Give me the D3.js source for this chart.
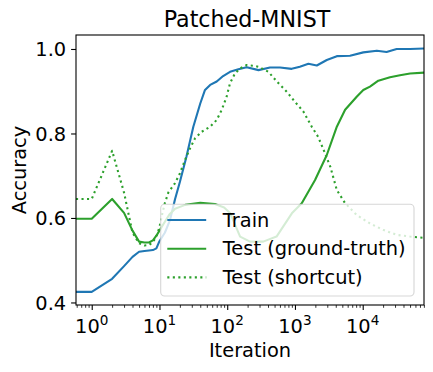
<!DOCTYPE html>
<html>
<head>
<meta charset="utf-8">
<script src="https://cdn.jsdelivr.net/npm/d3@7"></script>
<style>
  html, body { margin: 0; padding: 0; background: #fff; }
  svg { display: block; font-family: "DejaVu Sans", sans-serif; }
</style>
</head>
<body>
<svg id="chart" width="433" height="372"></svg>
<script>
// ---- Data ----
const title = "Patched-MNIST";
const xLabel = "Iteration";
const yLabel = "Accuracy";
const yTicks = [0.4, 0.6, 0.8, 1.0];
const xTickExps = [0, 1, 2, 3, 4];
const seriesNames = ["Train", "Test (ground-truth)", "Test (shortcut)"];

const trainIter = [0.586, 1, 2, 3, 4, 5, 6, 7, 8, 9, 10, 12, 14.3, 17, 20, 25, 31.6, 40, 47, 56, 70, 87, 110, 146, 194, 290, 428, 603, 895, 1180, 1580, 2100, 2950, 4150, 6500, 10200, 16200, 22500, 31700, 50000, 80300];
const trainAcc  = [0.425, 0.425, 0.456, 0.486, 0.508, 0.520, 0.522, 0.523, 0.524, 0.528, 0.545, 0.565, 0.595, 0.645, 0.685, 0.745, 0.816, 0.871, 0.903, 0.915, 0.923, 0.936, 0.946, 0.952, 0.957, 0.950, 0.956, 0.956, 0.953, 0.958, 0.965, 0.961, 0.974, 0.983, 0.984, 0.992, 0.996, 0.993, 1.000, 1.000, 1.001];

const gtIter = [0.586, 1, 2, 3, 4, 5, 6, 7, 8, 9, 10, 11.4, 14, 17, 24, 40, 66, 90, 110, 155, 217, 340, 535, 900, 1260, 1980, 2950, 4150, 5500, 8150, 10200, 12800, 17000, 25300, 35500, 50000, 80300];
const gtAcc  = [0.598, 0.598, 0.645, 0.612, 0.570, 0.544, 0.542, 0.542, 0.547, 0.558, 0.570, 0.585, 0.608, 0.622, 0.631, 0.636, 0.633, 0.625, 0.612, 0.556, 0.544, 0.544, 0.556, 0.611, 0.635, 0.690, 0.749, 0.816, 0.856, 0.887, 0.903, 0.911, 0.925, 0.933, 0.938, 0.942, 0.944];

const scIter = [0.586, 1, 2, 3, 4, 5, 6, 7, 8, 9, 10, 11, 12, 13.5, 16.9, 20.1, 23.8, 28.3, 33.6, 42, 56, 70, 83, 98, 110, 130, 155, 194, 256, 290, 405, 540, 755, 1000, 1330, 1770, 2200, 2650, 3330, 4150, 5500, 8150, 12800, 20000, 31700, 50000, 80300];
const scAcc  = [0.645, 0.645, 0.759, 0.660, 0.565, 0.540, 0.535, 0.536, 0.543, 0.556, 0.578, 0.610, 0.635, 0.660, 0.682, 0.706, 0.737, 0.765, 0.789, 0.804, 0.816, 0.832, 0.856, 0.887, 0.919, 0.942, 0.954, 0.962, 0.960, 0.958, 0.946, 0.923, 0.899, 0.875, 0.852, 0.816, 0.792, 0.761, 0.721, 0.666, 0.635, 0.607, 0.587, 0.572, 0.560, 0.556, 0.553];

// ---- Layout ----
const W = 433, H = 372;
const m = { left: 76, right: 424, top: 35, bottom: 305 };
const blue = "#1f77b4", green = "#2ca02c";

const svg = d3.select("#chart");

const x = d3.scaleLog().domain([0.586, 80300]).range([m.left, m.right]);
const y = d3.scaleLinear().domain([0.394, 1.0331]).range([m.bottom, m.top]);

svg.append("defs").append("clipPath").attr("id", "clip")
  .append("rect").attr("x", m.left).attr("y", m.top)
  .attr("width", m.right - m.left).attr("height", m.bottom - m.top);

const line = d3.line()
  .x(d => x(d[0])).y(d => y(d[1]))
  .curve(d3.curveLinear);

const series = [
  { name: seriesNames[0], xs: trainIter, ys: trainAcc, color: blue, dash: null },
  { name: seriesNames[1], xs: gtIter, ys: gtAcc, color: green, dash: null },
  { name: seriesNames[2], xs: scIter, ys: scAcc, color: green, dash: "2.1,3.4" }
];

const gLines = svg.append("g").attr("clip-path", "url(#clip)");
series.forEach(s => {
  const pts = s.xs.map((v, i) => [v, s.ys[i]]);
  gLines.append("path")
    .attr("d", line(pts))
    .attr("fill", "none")
    .attr("stroke", s.color)
    .attr("stroke-width", 2.1)
    .attr("stroke-dasharray", s.dash)
    .attr("stroke-linejoin", "round")
    .attr("stroke-linecap", s.dash ? "butt" : "square");
});

// ---- Axes ----
const fs = 19.4;
// y axis
const yAxis = d3.axisLeft(y).tickValues(yTicks).tickFormat(d3.format(".1f"))
  .tickSize(4.9).tickPadding(4.9);
const gy = svg.append("g").attr("transform", `translate(${m.left},0)`).call(yAxis);
gy.select(".domain").remove();
gy.selectAll("line").attr("stroke", "#000").attr("stroke-width", 1.1);
gy.selectAll("text").attr("font-size", fs).attr("fill", "#000")
  .attr("font-family", "DejaVu Sans").attr("dy", "0.36em");

// x axis major ticks
const xMajor = xTickExps.map(e => Math.pow(10, e));
const xAxis = d3.axisBottom(x).tickValues(xMajor).tickFormat("").tickSize(4.9);
const gx = svg.append("g").attr("transform", `translate(0,${m.bottom})`).call(xAxis);
gx.select(".domain").remove();
gx.selectAll("line").attr("stroke", "#000").attr("stroke-width", 1.1);
gx.selectAll("text").remove();

// x minor ticks
const minor = [];
for (let e = -1; e <= 4; e++) {
  for (let k = 2; k <= 9; k++) {
    const v = k * Math.pow(10, e);
    if (v >= x.domain()[0] && v <= x.domain()[1]) minor.push(v);
  }
}
const xMinorAxis = d3.axisBottom(x).tickValues(minor).tickFormat("").tickSize(2.8);
const gxm = svg.append("g").attr("transform", `translate(0,${m.bottom})`).call(xMinorAxis);
gxm.select(".domain").remove();
gxm.selectAll("line").attr("stroke", "#000").attr("stroke-width", 0.8);

// x tick labels as 10^e
xTickExps.forEach(e => {
  const t = svg.append("text")
    .attr("x", x(Math.pow(10, e)))
    .attr("y", 333)
    .attr("text-anchor", "middle")
    .attr("font-size", fs)
    .attr("fill", "#000");
  t.append("tspan").text("10");
  t.append("tspan").attr("font-size", 13.6).attr("dy", -8.5).text(String(e));
});

// spines
svg.append("rect")
  .attr("x", m.left).attr("y", m.top)
  .attr("width", m.right - m.left).attr("height", m.bottom - m.top)
  .attr("fill", "none").attr("stroke", "#000").attr("stroke-width", 1.1);

// labels
svg.append("text").attr("x", (m.left + m.right) / 2).attr("y", 357)
  .attr("text-anchor", "middle").attr("font-size", fs).attr("fill", "#000").text(xLabel);
svg.append("text")
  .attr("transform", `translate(26,${(m.top + m.bottom) / 2}) rotate(-90)`)
  .attr("text-anchor", "middle").attr("font-size", fs).attr("fill", "#000").text(yLabel);
svg.append("text").attr("x", (m.left + m.right) / 2 - 3).attr("y", 27)
  .attr("text-anchor", "middle").attr("font-size", 22.2).attr("fill", "#000").text(title);

// ---- Legend ----
const lg = svg.append("g");
lg.append("rect")
  .attr("x", 160.7).attr("y", 204.3)
  .attr("width", 414 - 160.7).attr("height", 296 - 204.3)
  .attr("rx", 3.9).attr("ry", 3.9)
  .attr("fill", "#fff").attr("fill-opacity", 0.8)
  .attr("stroke", "#cccccc").attr("stroke-opacity", 0.8).attr("stroke-width", 1.1);
const rowY = [220, 248.7, 277.4];
series.forEach((s, i) => {
  lg.append("line")
    .attr("x1", 167.3).attr("x2", 206.2)
    .attr("y1", rowY[i]).attr("y2", rowY[i])
    .attr("stroke", s.color).attr("stroke-width", 2.1)
    .attr("stroke-dasharray", s.dash);
  lg.append("text")
    .attr("x", 222.8).attr("y", rowY[i] + 6.7)
    .attr("font-size", fs).attr("fill", "#000").text(s.name);
});
</script>
</body>
</html>
